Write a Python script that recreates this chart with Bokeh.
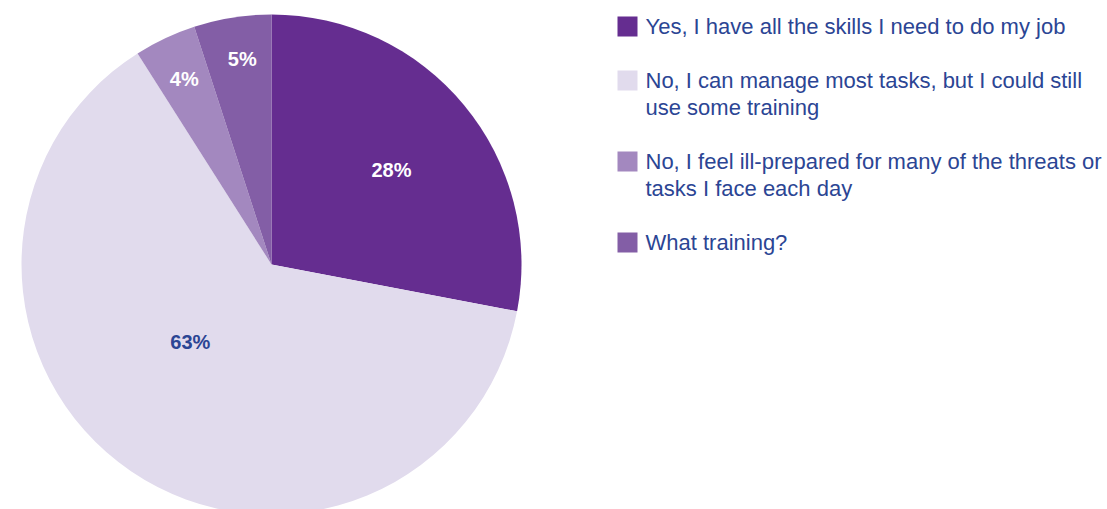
import math
from bokeh.plotting import figure
from bokeh.models import Range1d, ColumnDataSource
from bokeh.core.properties import value
from bokeh.embed import file_html
from bokeh.resources import INLINE

# ---- data ----
categories = [
    "Yes, I have all the skills I need to do my job",
    "No, I can manage most tasks, but I could still\nuse some training",
    "No, I feel ill-prepared for many of the threats or\ntasks I face each day",
    "What training?",
]
values = [28, 63, 4, 5]
pct_labels = ["28%", "63%", "4%", "5%"]

# ---- style ----
colors = ["#652d90", "#e1dbed", "#a388bf", "#835ea6"]
label_colors = ["white", "#2b4594", "white", "white"]
text_blue = "#2b4594"
label_r_frac = [0.61, 0.45, 0.82, 0.83]
label_ang_nudge = [1.5, 12.0, 0.0, 0.9]

W, H = 1107, 509
cx, cy, R = 271, H - 264, 250

p = figure(width=W, height=H, output_backend="svg", toolbar_location=None,
           x_range=Range1d(0, W), y_range=Range1d(0, H), min_border=0)
p.axis.visible = False
p.grid.visible = False
p.outline_line_color = None
p.background_fill_color = "white"
p.border_fill_color = "white"

total = float(sum(values))
starts, ends, mids = [], [], []
cum = 0.0
for v in values:
    a0 = cum / total * 2 * math.pi
    cum += v
    a1 = cum / total * 2 * math.pi
    starts.append(math.pi / 2 - a0)
    ends.append(math.pi / 2 - a1)
    mids.append((a0 + a1) / 2)

src = ColumnDataSource(dict(x=[cx] * len(values), y=[cy] * len(values),
                            start=starts, end=ends, color=colors))
p.wedge(x="x", y="y", radius=R, start_angle="start", end_angle="end",
        direction="clock", fill_color="color", line_color=None, source=src)

lx, ly = [], []
for i, m in enumerate(mids):
    th = m + math.radians(label_ang_nudge[i])
    r = R * label_r_frac[i]
    lx.append(cx + r * math.sin(th))
    ly.append(cy + r * math.cos(th))
p.text(x=lx, y=ly, text=pct_labels, text_color=label_colors,
       text_font=value("Liberation Sans"), text_font_style="bold",
       text_font_size="20px", text_align="center", text_baseline="middle")

# legend
sq_x, txt_x = 627, 645
line_h, gap = 27, 27
top = H - 16  # top of first square
sx, sy, tx, ty, tt = [], [], [], [], []
for i, cat in enumerate(categories):
    lines = cat.split("\n")
    sx.append(sq_x)
    sy.append(top - 10)
    for j, ln in enumerate(lines):
        tx.append(txt_x)
        ty.append(top - 10 - j * line_h)
        tt.append(ln)
    top -= len(lines) * line_h + gap
p.rect(x=sx, y=sy, width=20, height=20, fill_color=colors, line_color=None)
p.text(x=tx, y=ty, text=tt, text_color=text_blue,
       text_font=value("Liberation Sans"), text_font_size="22px",
       text_align="left", text_baseline="alphabetic")

open("out.html", "w").write(file_html(p, INLINE))
